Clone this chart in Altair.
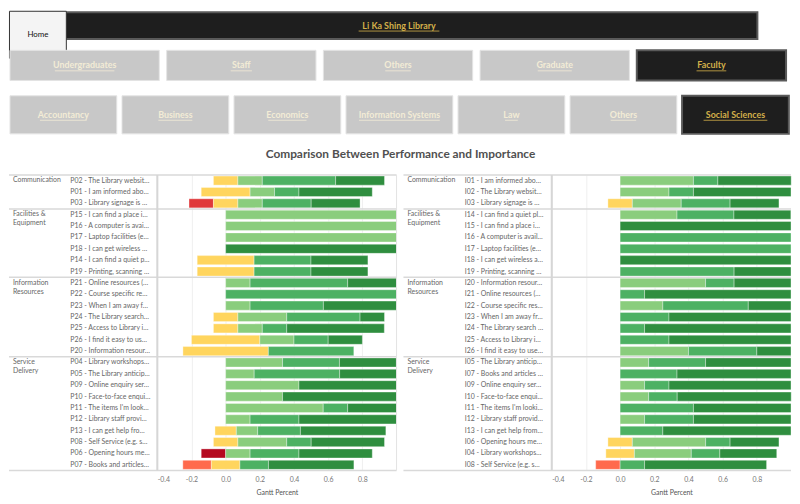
import altair as alt
import pandas as pd

# ---------------- data ----------------
LEVELS = ["1", "2", "3", "4", "5", "6", "7"]
LEVEL_COLORS = ["#B5091F", "#E0393B", "#FF6A4D", "#FFD55E", "#8ACD7D", "#4DB163", "#2F8E3F"]

GROUPS = ["Communication", "Facilities &\nEquipment", "Information\nResources", "Service\nDelivery"]
GROUP_SIZES = [3, 6, 7, 10]

P_ITEMS = [
    "P02 - The Library websit…", "P01 - I am informed abo…", "P03 - Library signage is …",
    "P15 - I can find a place i…", "P16 - A computer is avai…", "P17 - Laptop facilities (e…",
    "P18 - I can get wireless …", "P14 - I can find a quiet p…", "P19 - Printing, scanning …",
    "P21 - Online resources (…", "P22 - Course specific re…", "P23 - When I am away f…",
    "P24 - The Library search…", "P25 - Access to Library i…", "P26 - I find it easy to us…",
    "P20 - Information resour…",
    "P04 - Library workshops…", "P05 - The Library anticip…", "P09 - Online enquiry ser…",
    "P10 - Face-to-face enqui…", "P11 - The items I'm look…", "P12 - Library staff provi…",
    "P13 - I can get help fro…", "P08 - Self Service (e.g. s…", "P06 - Opening hours me…",
    "P07 - Books and articles…",
]
P_L1 = [0, 0, 0, 0, 0, 0, 0, 0, 0, 0, 0, 0, 0, 0, 0, 0, 0, 0, 0, 0, 0, 0, 0, 0, 0.143, 0]
P_L2 = [0, 0, 0.143, 0, 0, 0, 0, 0, 0, 0, 0, 0, 0, 0, 0, 0, 0, 0, 0, 0, 0, 0, 0, 0, 0, 0]
P_L3 = [0, 0, 0, 0, 0, 0, 0, 0, 0, 0, 0, 0, 0, 0, 0, 0, 0, 0, 0, 0, 0, 0, 0, 0, 0, 0.167]
P_L4 = [0.143, 0.286, 0.143, 0, 0, 0, 0, 0.333, 0.333, 0, 0, 0, 0.143, 0.143, 0.4, 0.5,
        0, 0, 0, 0, 0, 0, 0.125, 0.143, 0, 0.167]
P_L5 = [0.143, 0.143, 0.143, 1.0, 1.0, 1.0, 0, 0, 0, 0.143, 0, 0.143, 0.286, 0.143, 0.2, 0,
        0.333, 0.167, 0.429, 0.333, 0.571, 0.143, 0.125, 0.286, 0.143, 0]
P_L6 = [0.429, 0.143, 0.286, 0, 0, 0, 0, 0.333, 0.333, 0.571, 1.0, 0.429, 0.429, 0.143, 0.2, 0.5,
        0.333, 0.5, 0, 0, 0.143, 0.286, 0.25, 0.143, 0.286, 0.167]
P_L7 = [0.286, 0.429, 0.286, 0, 0, 0, 1.0, 0.333, 0.333, 0.286, 0, 0.429, 0.143, 0.571, 0.2, 0,
        0.333, 0.333, 0.571, 0.667, 0.286, 0.571, 0.5, 0.429, 0.429, 0.5]

I_ITEMS = [
    "I01 - I am informed abo…", "I02 - The Library websit…", "I03 - Library signage is …",
    "I14 - I can find a quiet pl…", "I15 - I can find a place i…", "I16 - A computer is avail…",
    "I17 - Laptop facilities (e…", "I18 - I can get wireless a…", "I19 - Printing, scanning …",
    "I20 - Information resour…", "I21 - Online resources (…", "I22 - Course specific res…",
    "I23 - When I am away fr…", "I24 - The Library search …", "I25 - Access to Library i…",
    "I26 - I find it easy to use…",
    "I05 - The Library anticip…", "I07 - Books and articles …", "I09 - Online enquiry ser…",
    "I10 - Face-to-face enqui…", "I11 - The items I'm looki…", "I12 - Library staff provid…",
    "I13 - I can get help from…", "I06 - Opening hours me…", "I04 - Library workshops…",
    "I08 - Self Service (e.g. s…",
]
I_L1 = [0] * 26
I_L2 = [0] * 26
I_L3 = [0, 0, 0, 0, 0, 0, 0, 0, 0, 0, 0, 0, 0, 0, 0, 0, 0, 0, 0, 0, 0, 0, 0, 0, 0, 0.143]
I_L4 = [0, 0, 0.143, 0, 0, 0, 0, 0, 0, 0, 0, 0, 0, 0, 0, 0, 0, 0, 0, 0, 0, 0, 0, 0.143, 0.167, 0]
I_L5 = [0.429, 0.286, 0.286, 0.333, 0, 0, 0, 0, 0, 0.5, 0, 0.25, 0, 0, 0, 0.4,
        0.167, 0, 0.143, 0.167, 0, 0.143, 0, 0.429, 0.333, 0]
I_L6 = [0.143, 0.143, 0.286, 0.333, 0, 1.0, 1.0, 0, 0.667, 0.167, 0.143, 0.5, 0.286, 0.143, 0.286, 0.4,
        0.333, 0.333, 0.143, 0.167, 0.429, 0.286, 0.25, 0.143, 0.167, 0.143]
I_L7 = [0.429, 0.571, 0.286, 0.333, 1.0, 0, 0, 1.0, 0.333, 0.333, 0.857, 0.25, 0.714, 0.857, 0.714, 0.2,
        0.5, 0.667, 0.714, 0.667, 0.571, 0.571, 0.75, 0.286, 0.333, 0.714]

ROW1_BUTTONS = ["Undergraduates", "Staff", "Others", "Graduate", "Faculty"]
ROW1_SELECTED = "Faculty"
ROW2_BUTTONS = ["Accountancy", "Business", "Economics", "Information Systems", "Law", "Others", "Social Sciences"]
ROW2_SELECTED = "Social Sciences"
HEADER_TITLE = "Li Ka Shing Library"
CHART_TITLE = "Comparison Between Performance and Importance"
AXIS_TICKS = [-0.4, -0.2, 0.0, 0.2, 0.4, 0.6, 0.8]

FONT = "Lato, Open Sans, sans-serif"
GOLD = "#D4B04A"
CREAM = "#F3ECD6"
PANEL_W = 242
ROW_H = 11.5
PANEL_H = ROW_H * 26
LABEL_W = 150


def group_of(n_items):
    out = []
    for g, s in zip(GROUPS, GROUP_SIZES):
        out += [g] * s
    return out[:n_items]


def build_panel(items, level_lists, right_border):
    groups = group_of(len(items))
    rows = []
    for i, item in enumerate(items):
        vals = [lv[i] for lv in level_lists]
        start = -(vals[0] + vals[1] + vals[2] + vals[3] / 2.0)
        for lev, v in zip(LEVELS, vals):
            if v > 0:
                rows.append({"item": item, "level": lev, "x0": start, "x1": start + v})
                start += v
    bars_df = pd.DataFrame(rows)
    items_df = pd.DataFrame({"item": items, "group": groups})
    firsts = items_df.drop_duplicates("group")

    yscale = alt.Scale(domain=items, paddingInner=0, paddingOuter=0)
    xscale = alt.Scale(domain=[-0.4, 1.0], nice=False, zero=False)

    base_y = alt.Y("item:N", scale=yscale, axis=None)

    bars = alt.Chart(bars_df).mark_bar(
        height=alt.RelativeBandSize(0.8), stroke="white", strokeWidth=0.5, strokeOpacity=0.7
    ).encode(
        x=alt.X("x0:Q", scale=xscale, axis=alt.Axis(
            values=AXIS_TICKS, format=".1f", title="Gantt Percent", grid=True,
            gridColor="#EFEFEF", gridWidth=1, domain=False, ticks=False,
            labelFontSize=7, labelColor="#777777", labelFont=FONT, labelPadding=5,
            labelExpr="replace(datum.label, '−', '-')",
            titleFontSize=7, titleColor="#555555", titleFont=FONT, titleFontWeight="normal",
            titlePadding=6)),
        x2="x1:Q",
        y=base_y,
        color=alt.Color("level:N", scale=alt.Scale(domain=LEVELS, range=LEVEL_COLORS), legend=None),
    )

    seps = alt.Chart(firsts).mark_rule(color="#D9D9D9", strokeWidth=1.5).encode(
        x=alt.value(-LABEL_W), x2=alt.value(PANEL_W),
        y=alt.Y("item:N", scale=yscale, axis=None, bandPosition=0),
    )
    bottom = alt.Chart(firsts.head(1)).mark_rule(color="#D9D9D9", strokeWidth=1.5).encode(
        x=alt.value(-LABEL_W), x2=alt.value(PANEL_W), y=alt.value(PANEL_H),
    )
    leftline = alt.Chart(firsts.head(1)).mark_rule(color="#D6D6D6", strokeWidth=2).encode(
        x=alt.value(0), y=alt.value(0), y2=alt.value(PANEL_H),
    )
    item_text = alt.Chart(items_df).mark_text(
        align="left", baseline="middle", fontSize=7, font=FONT, color="#666666"
    ).encode(x=alt.value(-88), y=base_y, text="item:N")
    group_text = alt.Chart(firsts).mark_text(
        align="left", baseline="top", fontSize=7, font=FONT, color="#666666",
        lineBreak="\n", lineHeight=9, dy=1.5
    ).encode(
        x=alt.value(-146), y=alt.Y("item:N", scale=yscale, axis=None, bandPosition=0),
        text="group:N",
    )
    layers = [seps, bottom, bars, leftline, item_text, group_text]
    if right_border:
        rb = alt.Chart(firsts.head(1)).mark_rule(color="#E3E3E3", strokeWidth=1).encode(
            x=alt.value(PANEL_W), y=alt.value(0), y2=alt.value(PANEL_H))
        layers.append(rb)
    return alt.layer(*layers).properties(width=PANEL_W, height=PANEL_H)


# ---------------- header ----------------
# header coordinates are page pixels minus the 8px margin; the header view starts at
# LABEL_W so that it lines up with the panels below (marks to the left are unclipped)
HDR_W, HDR_H = 784, 156
btn = []
btn.append({"x": 32, "x2": 757, "y": 1.5, "y2": 28.5, "fill": "#1E1E1E", "stroke": "#5A5A5A", "sw": 2,
            "label": HEADER_TITLE, "tcol": GOLD, "kind": "b"})
btn.append({"x": 0.5, "x2": 58, "y": 0.5, "y2": 48, "fill": "#F4F4F4", "stroke": "#333333", "sw": 1,
            "label": "Home", "tcol": "#111111", "kind": "h"})
for i, name in enumerate(ROW1_BUTTONS):
    x0 = 1 + i * 158.5
    sel = name == ROW1_SELECTED
    btn.append({"x": x0, "x2": x0 + 151, "y": 40, "y2": 70.5,
                "fill": "#1E1E1E" if sel else "#C8C8C8",
                "stroke": "#5A5A5A" if sel else "#E4E4E4", "sw": 2 if sel else 1,
                "label": name, "tcol": GOLD if sel else CREAM, "kind": "b"})
for i, name in enumerate(ROW2_BUTTONS):
    x0 = 1 + i * 113.3
    sel = name == ROW2_SELECTED
    btn.append({"x": x0, "x2": x0 + 108, "y": 86, "y2": 124.5,
                "fill": "#1E1E1E" if sel else "#C8C8C8",
                "stroke": "#5A5A5A" if sel else "#E4E4E4", "sw": 2 if sel else 1,
                "label": name, "tcol": GOLD if sel else CREAM, "kind": "b"})
hdf = pd.DataFrame(btn)
hdf["cx"] = (hdf["x"] + hdf["x2"]) / 2
hdf["cy"] = (hdf["y"] + hdf["y2"]) / 2
hdf["uw"] = hdf["label"].str.len() * 4.3
hdf["ux"] = hdf["cx"] - hdf["uw"] / 2
hdf["ux2"] = hdf["cx"] + hdf["uw"] / 2
hdf["uy"] = hdf["cy"] + 5.5
hdf["order"] = range(len(hdf))

hx = alt.Scale(domain=[LABEL_W, HDR_W], range=[0, HDR_W - LABEL_W], nice=False, zero=False)
hy = alt.Scale(domain=[HDR_H, 0], nice=False, zero=False)

rects = alt.Chart(hdf).mark_rect().encode(
    x=alt.X("x:Q", scale=hx, axis=None), x2="x2:Q",
    y=alt.Y("y:Q", scale=hy, axis=None), y2="y2:Q",
    color=alt.Color("fill:N", scale=None),
    stroke=alt.Stroke("stroke:N", scale=None),
    strokeWidth=alt.StrokeWidth("sw:Q", scale=None),
    order="order:Q",
)
btn_text = alt.Chart(hdf[hdf["kind"] == "b"]).mark_text(
    fontSize=9, font=FONT, fontWeight="bold", baseline="middle", align="center"
).encode(
    x=alt.X("cx:Q", scale=hx, axis=None), y=alt.Y("cy:Q", scale=hy, axis=None),
    text="label:N", color=alt.Color("tcol:N", scale=None),
)
underline = alt.Chart(hdf[hdf["kind"] == "b"]).mark_rule(strokeWidth=0.8).encode(
    x=alt.X("ux:Q", scale=hx, axis=None), x2="ux2:Q",
    y=alt.Y("uy:Q", scale=hy, axis=None),
    color=alt.Color("tcol:N", scale=None),
)
home_text = alt.Chart(hdf[hdf["kind"] == "h"]).mark_text(
    fontSize=8, font=FONT, baseline="middle", align="center"
).encode(
    x=alt.X("cx:Q", scale=hx, axis=None), y=alt.Y("cy:Q", scale=hy, axis=None),
    text="label:N", color=alt.Color("tcol:N", scale=None),
)
title_df = pd.DataFrame({"t": [CHART_TITLE], "x": [396], "y": [145]})
title_text = alt.Chart(title_df).mark_text(
    fontSize=12, font=FONT, fontWeight="bold", color="#505050", baseline="middle", align="center"
).encode(
    x=alt.X("x:Q", scale=hx, axis=None), y=alt.Y("y:Q", scale=hy, axis=None), text="t:N",
)
header = alt.layer(rects, btn_text, underline, home_text, title_text).properties(
    width=HDR_W - LABEL_W, height=HDR_H
)

left = build_panel(P_ITEMS, [P_L1, P_L2, P_L3, P_L4, P_L5, P_L6, P_L7], True)
right = build_panel(I_ITEMS, [I_L1, I_L2, I_L3, I_L4, I_L5, I_L6, I_L7], False)

panels = alt.hconcat(left, right, spacing=5).resolve_scale(x="independent", y="independent", color="shared")

chart = alt.vconcat(header, panels, spacing=9).properties(padding=0).configure_view(stroke=None)

chart.save("out.html", embed_options={"renderer": "svg", "actions": False})
